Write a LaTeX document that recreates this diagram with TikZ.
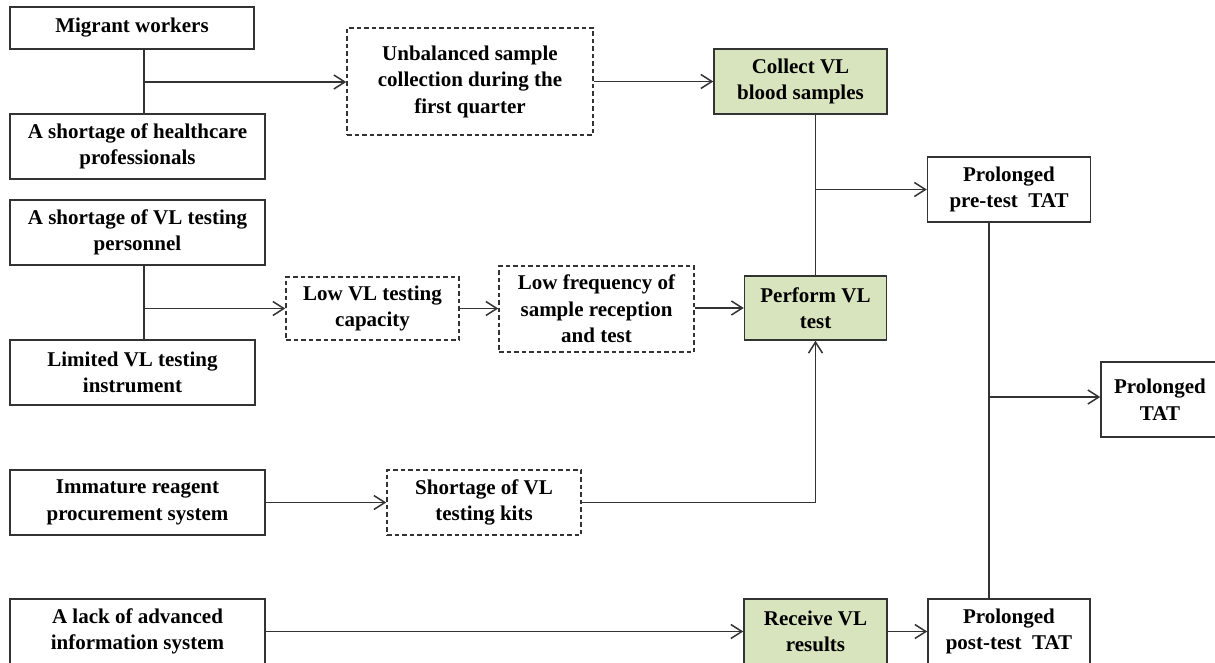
\documentclass[tikz,border=0pt]{standalone}
\usepackage{fontspec}
\setmainfont{Liberation Serif}
\definecolor{tatGreen}{HTML}{D7E4BD}
\definecolor{tatLine}{HTML}{333333}
\usetikzlibrary{arrows.meta}

\begin{document}
\begin{tikzpicture}[x=1pt, y=-1pt,
  box/.style={draw=tatLine, line width=1.5pt, inner sep=0pt, align=center,
    minimum height=65pt, font=\fontsize{21}{26.5}\selectfont\bfseries},
  gap/.style={box, dash pattern=on 4.5pt off 3pt},
  stage/.style={box, fill=tatGreen},
  link/.style={line width=1.5pt, color=tatLine},
  arr/.style={link, -{Straight Barb[length=11pt, width=14pt]}}
]
  \clip (0,0) rectangle (1215,663);
  \fill[white] (0,0) rectangle (1215,663);

  % root causes
  \node[box, minimum width=244pt, minimum height=42pt] (migrant) at (132,28) {Migrant workers};
  \node[box, minimum width=255pt] (health) at (137.5,146.5) {A shortage of healthcare\\professionals};
  \node[box, minimum width=255pt] (personnel) at (137.5,232.5) {A shortage of VL testing\\personnel};
  \node[box, minimum width=245pt] (instrument) at (132.5,372.5) {Limited VL testing\\instrument};
  \node[box, minimum width=255pt] (reagent) at (137.5,502.5) {Immature reagent\\procurement system};
  \node[box, minimum width=255pt] (infosys) at (137.5,631.5) {A lack of advanced\\information system};

  % intermediate problems
  \node[gap, minimum width=246pt, minimum height=107pt] (unbalanced) at (470,81.5) {Unbalanced sample\\collection during the\\first quarter};
  \node[gap, minimum width=173pt, minimum height=63pt] (capacity) at (372.5,308.5) {Low VL testing\\capacity};
  \node[gap, minimum width=195pt, minimum height=86pt] (lowfreq) at (596.5,309) {Low frequency of\\sample reception\\and test};
  \node[gap, minimum width=194pt] (kits) at (484,502.5) {Shortage of VL\\testing kits};

  % process steps
  \node[stage, minimum width=173pt] (collect) at (800.5,81.5) {Collect VL\\blood samples};
  \node[stage, minimum width=142pt, minimum height=64pt] (perform) at (815.5,308) {Perform VL\\test};
  \node[stage, minimum width=143pt] (receive) at (815.5,631.5) {Receive VL\\results};

  % outcomes
  \node[box, minimum width=163pt] (pretat) at (1009,189.5) {Prolonged\\pre-test\ \ TAT};
  \node[box, minimum width=162pt] (posttat) at (1009,631.5) {Prolonged\\post-test\ \ TAT};
  \node[box, minimum width=118pt, minimum height=75pt] (tat) at (1160,399.5) {Prolonged\\TAT};

  % staffing
  \coordinate (staff) at (144,82);
  \draw[link] (migrant.south -| staff) -- (health.north -| staff);
  \draw[arr] (staff) -- (unbalanced.west |- staff);
  \draw[arr] (unbalanced) -- (collect);

  % lab capacity
  \coordinate (lab) at (144,308.5);
  \draw[link] (personnel.south -| lab) -- (instrument.north -| lab);
  \draw[arr] (lab) -- (capacity.west |- lab);
  \draw[arr] (capacity.east) -- (lowfreq.west |- capacity.east);
  \draw[arr] (lowfreq.east |- perform) -- (perform.west);
  \draw[arr] (kits.east) -| (perform.south);
  \draw[arr] (reagent) -- (kits);

  % results
  \draw[arr] (infosys) -- (receive);
  \draw[arr] (receive) -- (posttat);

  % pre-test delay
  \coordinate (pre) at (perform.north |- pretat);
  \draw[link] (collect.south -| perform.north) -- (perform.north);
  \draw[arr] (pre) -- (pretat.west);

  % overall delay
  \coordinate (total) at (989,397);
  \draw[link] (pretat.south -| total) -- (posttat.north -| total);
  \draw[arr] (total) -- (tat.west |- total);
\end{tikzpicture}
\end{document}
